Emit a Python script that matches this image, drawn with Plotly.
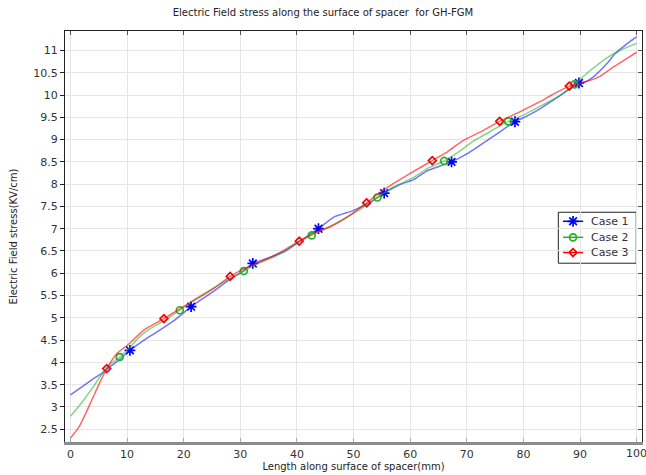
import plotly.graph_objects as go

# Electric field along the spacer surface for three cases
case1_x = [0, 2, 4, 5.6, 7, 8.8, 10.5, 13, 15.5, 18.2, 21.3, 23, 25, 28, 30.5, 32.2, 35.3, 38, 40.5,
           43.8, 46.5, 50, 53, 55.4, 58, 60.6, 63, 64.7, 67.3, 70, 72.3, 75, 78.5, 80.5, 82.9, 86,
           89.8, 91, 92.3, 94.7, 96.2, 98, 100]
case1_y = [3.27, 3.45, 3.63, 3.76, 3.9, 4.08, 4.27, 4.5, 4.7, 4.93, 5.25, 5.4, 5.57, 5.85, 6.05, 6.22,
           6.36, 6.5, 6.72, 7.0, 7.26, 7.41, 7.6, 7.8, 7.98, 8.1, 8.3, 8.38, 8.5, 8.68, 8.87, 9.1, 9.4,
           9.52, 9.69, 9.95, 10.27, 10.3, 10.4, 10.7, 10.93, 11.12, 11.31]
case1_marks = [6, 10, 15, 19, 23, 28, 32, 36]

case2_x = [0, 2, 4, 5.9, 7.2, 8.7, 10.3, 12, 14, 16.5, 19.3, 22, 25, 28, 30.6, 33, 36, 38, 40.4, 42.6,
           45, 48, 51, 54.2, 57, 60.6, 63, 66, 68.5, 71.2, 74, 77.3, 80, 83, 86.5, 89, 91.8, 94.7, 97, 100]
case2_y = [2.79, 3.1, 3.45, 3.8, 3.98, 4.12, 4.31, 4.55, 4.75, 4.93, 5.17, 5.42, 5.65, 5.87, 6.05, 6.22,
           6.37, 6.52, 6.7, 6.85, 7.0, 7.2, 7.42, 7.7, 7.93, 8.15, 8.35, 8.52, 8.72, 8.97, 9.17, 9.41,
           9.55, 9.75, 9.99, 10.24, 10.55, 10.83, 11.0, 11.16]
case2_marks = [5, 10, 14, 19, 23, 27, 31, 35]

case3_x = [0, 1.5, 3.5, 5, 6.4, 8.2, 10.1, 12.9, 16.5, 19.5, 22.9, 25.5, 28.2, 31, 34, 37, 40.4, 43, 46,
           49, 52.3, 55, 57, 60, 63.9, 66.5, 69.4, 72.5, 75.8, 79, 82.9, 85, 88.1, 90.6, 93.5, 95.9, 98, 100]
case3_y = [2.3, 2.55, 3.08, 3.5, 3.86, 4.2, 4.39, 4.72, 4.98, 5.22, 5.47, 5.68, 5.93, 6.12, 6.28, 6.47,
           6.72, 6.9, 7.05, 7.27, 7.58, 7.85, 8.01, 8.24, 8.53, 8.72, 8.98, 9.18, 9.41, 9.6, 9.85, 10.0,
           10.2, 10.28, 10.42, 10.63, 10.8, 10.96]
case3_marks = [4, 8, 12, 16, 20, 24, 28, 32]

case_names = ["Case 1", "Case 2", "Case 3"]

x_ticks = [0, 10, 20, 30, 40, 50, 60, 70, 80, 90, 100]
y_ticks = [2.5, 3, 3.5, 4, 4.5, 5, 5.5, 6, 6.5, 7, 7.5, 8, 8.5, 9, 9.5, 10, 10.5, 11]
y_tick_text = [f"{v:g}" for v in y_ticks]
# the last x label runs past the page edge, so it is written as a free annotation
x_tick_text = [f"{v:g}" for v in x_ticks[:-1]] + [""]

X_RANGE = [-0.97, 100.94]
Y_RANGE = [2.213, 11.437]
FONT = "DejaVu Sans, sans-serif"


def px_x(f):
    """Fraction of the plot width -> x data coordinate."""
    return X_RANGE[0] + f * (X_RANGE[1] - X_RANGE[0])


def px_y(f):
    """Fraction of the plot height -> y data coordinate."""
    return Y_RANGE[0] + f * (Y_RANGE[1] - Y_RANGE[0])


styles = [
    dict(line="rgba(0,0,255,0.55)", mark="rgb(0,0,255)", symbol="asterisk-open", size=9),
    dict(line="rgba(30,180,30,0.55)", mark="rgb(40,175,40)", symbol="circle-open", size=7),
    dict(line="rgba(255,0,0,0.6)", mark="rgb(255,0,0)", symbol="diamond-open", size=6),
]
data = [(case1_x, case1_y, case1_marks), (case2_x, case2_y, case2_marks), (case3_x, case3_y, case3_marks)]

fig = go.Figure()
for (xs, ys, marks), st in zip(data, styles):
    fig.add_trace(go.Scatter(x=xs, y=ys, mode="lines", showlegend=False, hoverinfo="skip",
                             line=dict(color=st["line"], width=1.5, shape="spline", smoothing=0.6)))
    fig.add_trace(go.Scatter(x=[xs[i] for i in marks], y=[ys[i] for i in marks], mode="markers",
                             showlegend=False, hoverinfo="skip",
                             marker=dict(symbol=st["symbol"], size=st["size"], color=st["mark"],
                                         line=dict(color=st["mark"], width=1.7))))

# companion axes for the top and right frame edges
fig.add_trace(go.Scatter(x=[None], y=[None], xaxis="x2", yaxis="y2", showlegend=False, hoverinfo="skip"))

# legend box, placed in plot-area fractions
LEG_X0, LEG_X1, LEG_Y0, LEG_Y1 = 0.855, 0.99, 0.435, 0.559
row_y = [0.537, 0.498, 0.461]
fig.add_shape(type="rect", xref="paper", yref="paper", x0=LEG_X0, x1=LEG_X1, y0=LEG_Y0, y1=LEG_Y1,
              line=dict(color="#222222", width=1), fillcolor="white", layer="below")
for name, st, ry in zip(case_names, styles, row_y):
    fig.add_trace(go.Scatter(x=[px_x(0.863), px_x(0.898)], y=[px_y(ry), px_y(ry)], mode="lines",
                             showlegend=False, hoverinfo="skip", line=dict(color=st["mark"], width=1.5)))
    fig.add_trace(go.Scatter(x=[px_x(0.8805)], y=[px_y(ry)], mode="markers",
                             showlegend=False, hoverinfo="skip",
                             marker=dict(symbol=st["symbol"], size=st["size"], color=st["mark"],
                                         line=dict(color=st["mark"], width=1.7))))
    fig.add_annotation(x=0.908, y=ry, xref="paper", yref="paper", text=name, showarrow=False,
                       xanchor="left", yanchor="middle", font=dict(family=FONT, size=11, color="#333333"))

fig.add_annotation(x=x_ticks[-1], y=0, xref="x", yref="paper", text=f"{x_ticks[-1]:g}", showarrow=False,
                   xanchor="center", yanchor="top", yshift=-3,
                   font=dict(family=FONT, size=11, color="#333333"))

fig.update_layout(
    width=646, height=475,
    margin=dict(l=65, r=4, t=31, b=33),
    paper_bgcolor="white", plot_bgcolor="white",
    showlegend=False,
    font=dict(family=FONT, size=11, color="#333333"),
    title=dict(text="Electric Field stress along the surface of spacer  for GH-FGM",
               x=0.5, xanchor="center", y=0.973, yanchor="middle",
               font=dict(family=FONT, size=10, color="#222222")),
    xaxis=dict(range=X_RANGE, tickvals=x_ticks, ticktext=x_tick_text, showgrid=True, gridcolor="#e6e6e6",
               gridwidth=1, zeroline=False, showline=True, linecolor="#8c8c8c", linewidth=3,
               ticks="inside", ticklen=4, tickcolor="#aaaaaa",
               title=dict(text="Length along surface of spacer(mm)", standoff=1,
                          font=dict(family=FONT, size=10, color="#222222")),
               tickfont=dict(size=11, color="#333333")),
    yaxis=dict(range=Y_RANGE, tickvals=y_ticks, ticktext=y_tick_text, showgrid=True, gridcolor="#e6e6e6",
               gridwidth=1, zeroline=False, showline=True, linecolor="#222222", linewidth=1,
               ticks="outside", ticklen=4, tickcolor="#222222",
               title=dict(text="Electric Field stress(KV/cm)", standoff=13,
                          font=dict(family=FONT, size=10, color="#222222")),
               tickfont=dict(size=11, color="#333333")),
    xaxis2=dict(range=X_RANGE, overlaying="x", side="top", tickvals=x_ticks, showticklabels=False,
                showgrid=False, zeroline=False, showline=True, linecolor="#222222", linewidth=1,
                ticks="inside", ticklen=4, tickcolor="#555555"),
    yaxis2=dict(range=Y_RANGE, overlaying="y", side="right", tickvals=y_ticks, showticklabels=False,
                showgrid=False, zeroline=False, showline=True, linecolor="#222222", linewidth=1,
                ticks="inside", ticklen=4, tickcolor="#555555"),
)

fig.write_html("out.html")
